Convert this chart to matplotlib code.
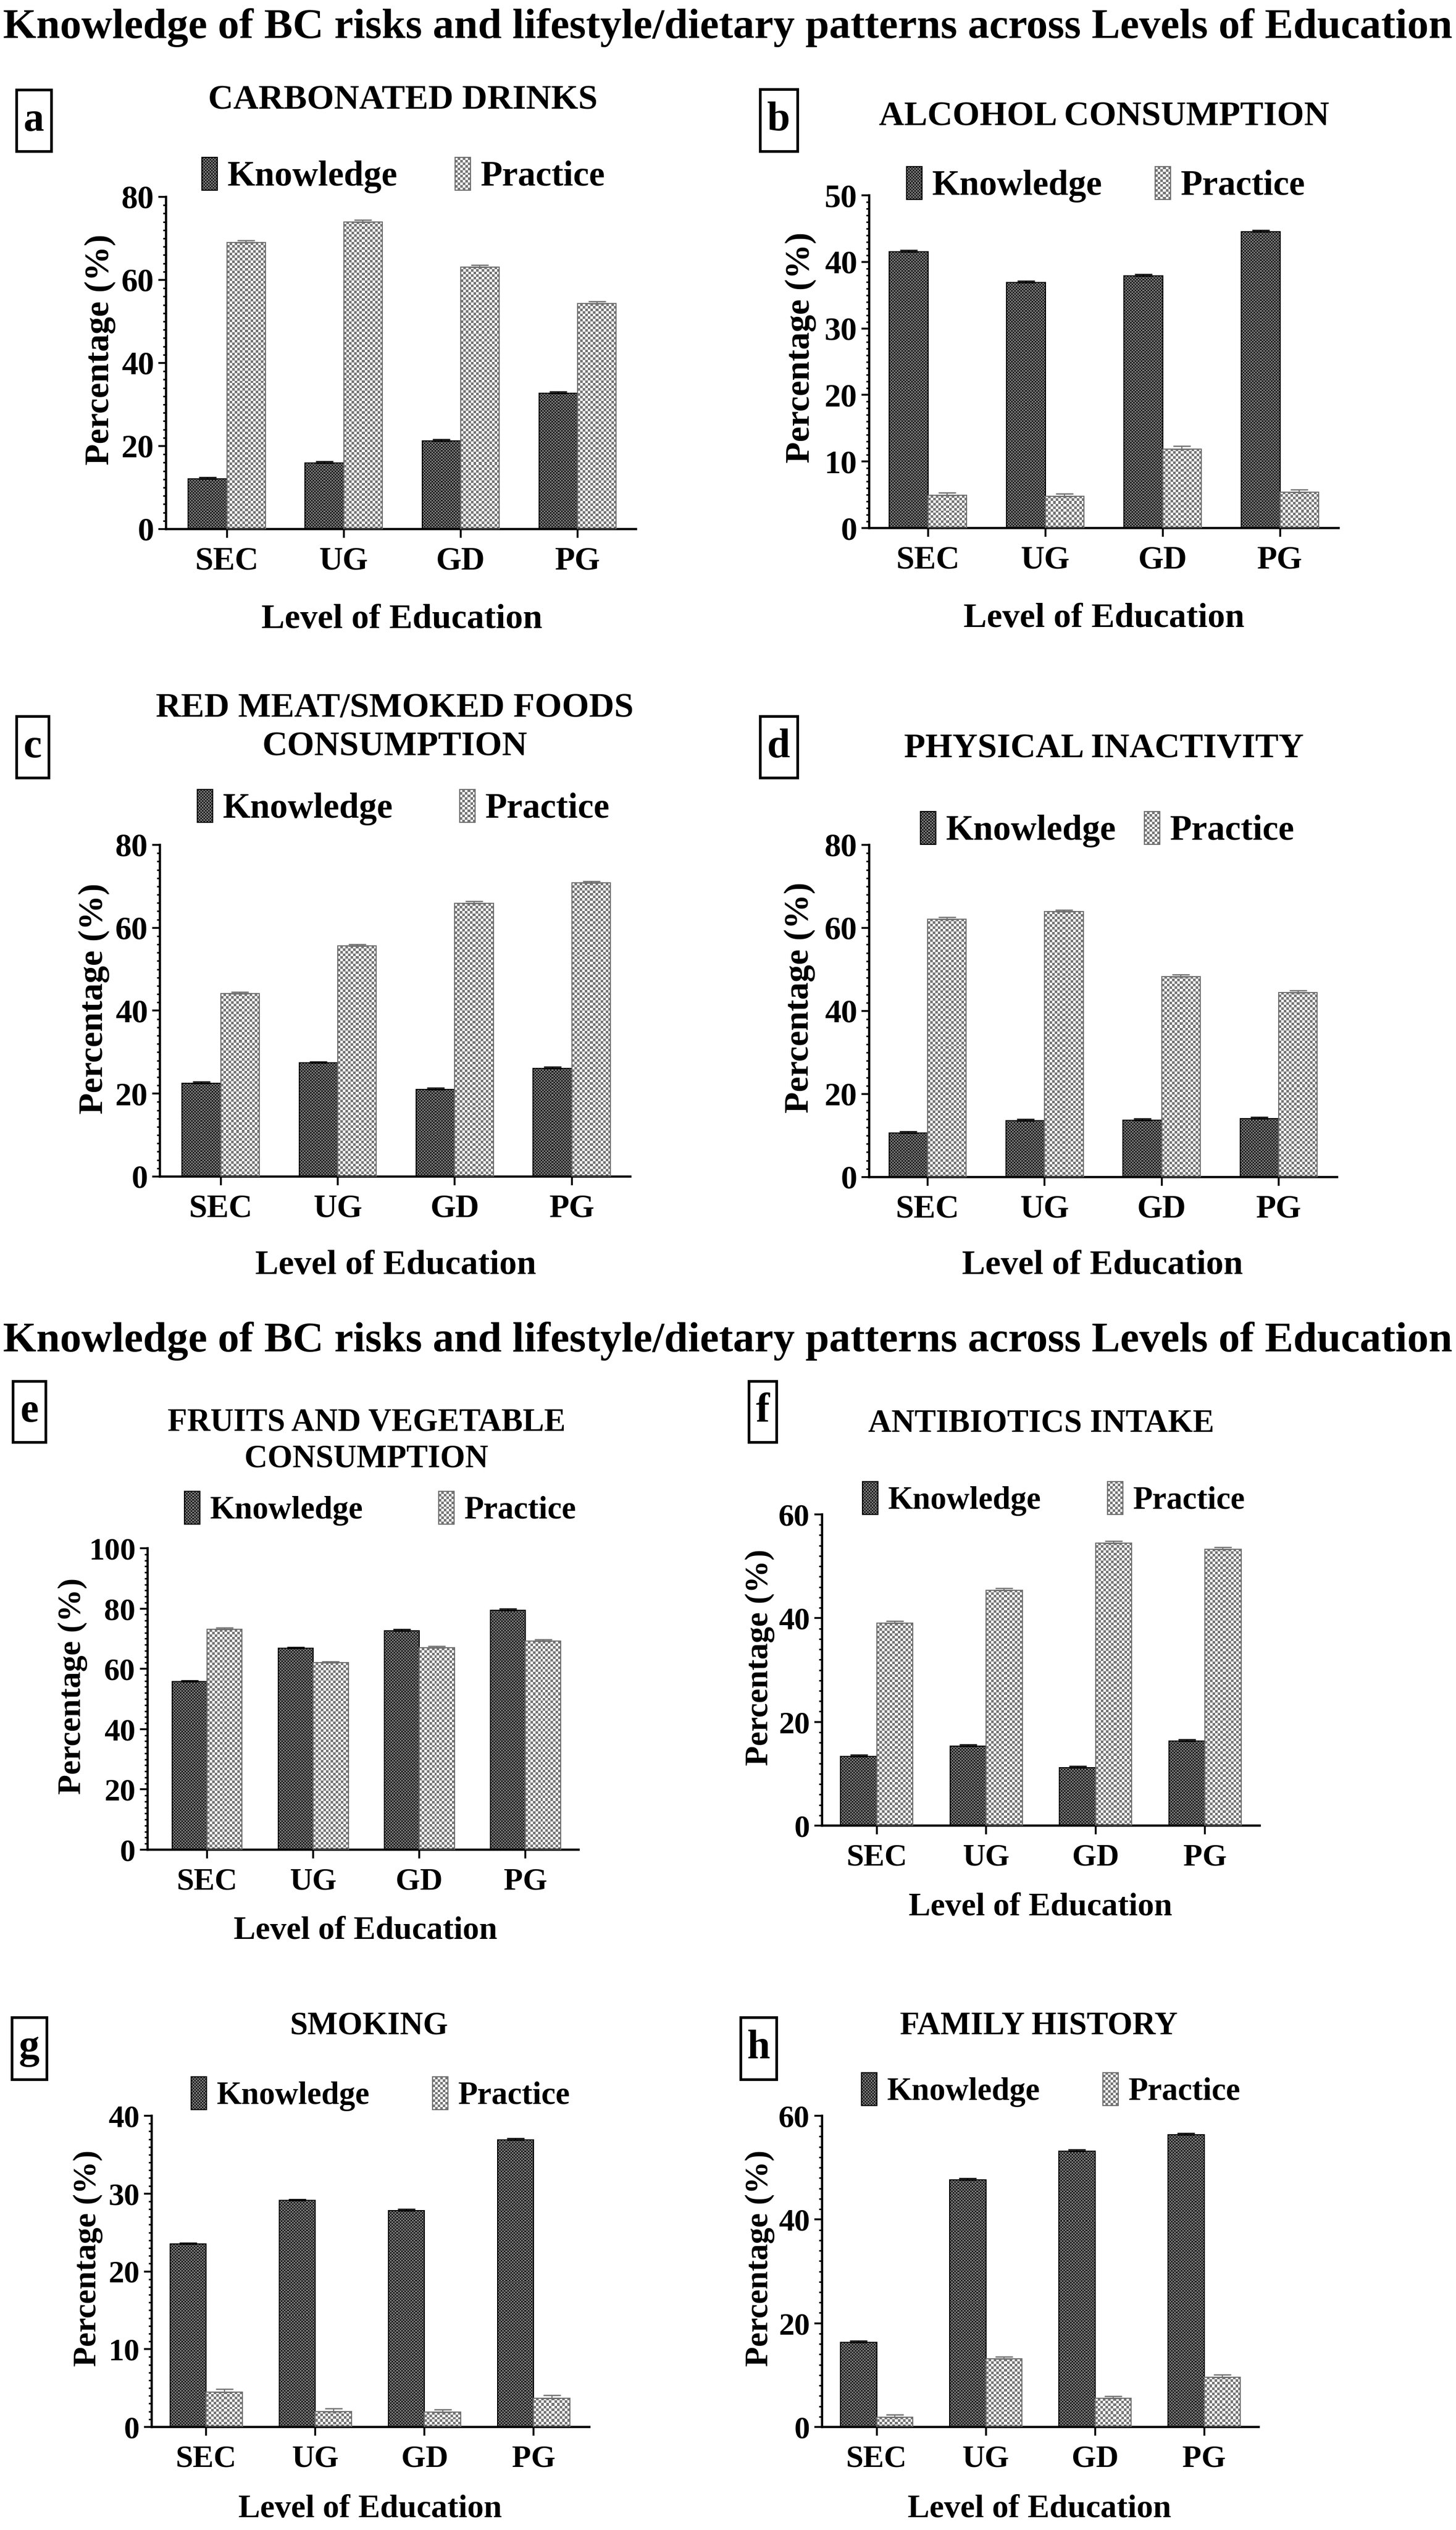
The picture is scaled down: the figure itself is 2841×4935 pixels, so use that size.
import numpy as np
import matplotlib
matplotlib.use('Agg')
import matplotlib.pyplot as plt
from matplotlib.colors import ListedColormap
from matplotlib.patches import Rectangle
from matplotlib.ticker import MultipleLocator

plt.rcParams['font.family'] = ['Liberation Serif', 'DejaVu Serif']
plt.rcParams['font.weight'] = 'bold'

# ---------------- data ----------------
categories = ['SEC', 'UG', 'GD', 'PG']
series_names = ['Knowledge', 'Practice']
main_title = 'Knowledge of BC risks and lifestyle/dietary patterns across Levels of Education'
x_label = 'Level of Education'
y_label = 'Percentage (%)'

carbonated_knowledge = [12.1, 15.9, 21.2, 32.7]
carbonated_practice = [69.0, 74.0, 63.1, 54.3]
carbonated_k_err = [0.35, 0.35, 0.35, 0.35]
carbonated_p_err = [0.5, 0.5, 0.5, 0.5]

alcohol_knowledge = [41.5, 36.9, 37.9, 44.5]
alcohol_practice = [4.9, 4.8, 11.9, 5.4]
alcohol_k_err = [0.25, 0.25, 0.25, 0.25]
alcohol_p_err = [0.4, 0.4, 0.4, 0.4]

redmeat_knowledge = [22.5, 27.4, 21.0, 26.1]
redmeat_practice = [44.1, 55.6, 65.9, 70.8]
redmeat_k_err = [0.35, 0.35, 0.35, 0.35]
redmeat_p_err = [0.45, 0.45, 0.45, 0.45]

inactivity_knowledge = [10.6, 13.6, 13.7, 14.1]
inactivity_practice = [62.1, 63.9, 48.3, 44.5]
inactivity_k_err = [0.35, 0.35, 0.35, 0.35]
inactivity_p_err = [0.45, 0.45, 0.45, 0.45]

fruits_knowledge = [55.8, 66.8, 72.7, 79.5]
fruits_practice = [73.1, 62.0, 67.0, 69.2]
fruits_k_err = [0.4, 0.4, 0.4, 0.4]
fruits_p_err = [0.5, 0.5, 0.5, 0.5]

antibiotics_knowledge = [13.3, 15.3, 11.2, 16.3]
antibiotics_practice = [39.0, 45.4, 54.5, 53.3]
antibiotics_k_err = [0.3, 0.3, 0.3, 0.3]
antibiotics_p_err = [0.4, 0.4, 0.4, 0.4]

smoking_knowledge = [23.5, 29.1, 27.8, 36.9]
smoking_practice = [4.5, 2.0, 1.9, 3.7]
smoking_k_err = [0.18, 0.18, 0.18, 0.18]
smoking_p_err = [0.36, 0.36, 0.36, 0.36]

family_knowledge = [16.3, 47.6, 53.2, 56.3]
family_practice = [1.9, 13.1, 5.5, 9.6]
family_k_err = [0.3, 0.3, 0.3, 0.3]
family_p_err = [0.45, 0.45, 0.45, 0.45]

# ---------------- layout / style ----------------
W, H, DPI = 2841, 4935, 100
fig = plt.figure(figsize=(W / DPI, H / DPI), dpi=DPI)
fig.patch.set_facecolor('white')

K_COLS = ['#1c1c1c', '#7c7c7c']
P_COLS = ['#ffffff', '#747474']
K_EDGE = '#000000'
P_EDGE = '#6e6e6e'


def fx(x):
    return x / W


def fy(y):
    return 1 - y / H


def checker(nr, nc):
    return (np.add.outer(np.arange(nr), np.arange(nc)) % 2).astype(float)


def px_em(fs):
    return fs * DPI / 72.0


panels = [
    dict(letter='a', title='CARBONATED DRINKS', data=(carbonated_knowledge, carbonated_practice, carbonated_k_err, carbonated_p_err),
         ymax=80, ystep=20, axes=(324, 384, 1241, 1032), xlim=(-0.52, 3.5), title_xy=(786, 190),
         box=(32, 175, 100, 295), leg_y=339, leg_k=394, leg_p=888, ylab=(195, 682), xlab=(784, 1209), big=True),
    dict(letter='b', title='ALCOHOL CONSUMPTION', data=(alcohol_knowledge, alcohol_practice, alcohol_k_err, alcohol_p_err),
         ymax=50, ystep=10, axes=(1696, 381, 2612, 1030), xlim=(-0.5, 3.5), title_xy=(2154, 222),
         box=(1483, 174, 1556, 295), leg_y=357, leg_k=1769, leg_p=2254, ylab=(1562, 678), xlab=(2154, 1206), big=True),
    dict(letter='c', title='RED MEAT/SMOKED FOODS\nCONSUMPTION', data=(redmeat_knowledge, redmeat_practice, redmeat_k_err, redmeat_p_err),
         ymax=80, ystep=20, axes=(312, 1648, 1230, 2295), xlim=(-0.52, 3.5), title_xy=(770, 1451),
         box=(32, 1397, 95, 1517), leg_y=1572, leg_k=385, leg_p=897, ylab=(183, 1948), xlab=(772, 2468), big=True),
    dict(letter='d', title='PHYSICAL INACTIVITY', data=(inactivity_knowledge, inactivity_practice, inactivity_k_err, inactivity_p_err),
         ymax=80, ystep=20, axes=(1696, 1648, 2609, 2296), xlim=(-0.5, 3.5), title_xy=(2154, 1455),
         box=(1483, 1397, 1556, 1517), leg_y=1615, leg_k=1796, leg_p=2233, ylab=(1560, 1946), xlab=(2151, 2468), big=True),
    dict(letter='e', title='FRUITS AND VEGETABLE\nCONSUMPTION', data=(fruits_knowledge, fruits_practice, fruits_k_err, fruits_p_err),
         ymax=100, ystep=20, axes=(288, 3020, 1129, 3608), xlim=(-0.56, 3.5), title_xy=(715, 2841),
         box=(25, 2694, 89, 2813), leg_y=2941, leg_k=360, leg_p=856, ylab=(142, 3289), xlab=(713, 3767), big=False),
    dict(letter='f', title='ANTIBIOTICS INTAKE', data=(antibiotics_knowledge, antibiotics_practice, antibiotics_k_err, antibiotics_p_err),
         ymax=60, ystep=20, axes=(1604, 2954, 2458, 3561), xlim=(-0.5, 3.5), title_xy=(2032, 2772),
         box=(1461, 2694, 1515, 2813), leg_y=2922, leg_k=1683, leg_p=2161, ylab=(1483, 3233), xlab=(2030, 3721), big=False),
    dict(letter='g', title='SMOKING', data=(smoking_knowledge, smoking_practice, smoking_k_err, smoking_p_err),
         ymax=40, ystep=10, axes=(296, 4127, 1150, 4734), xlim=(-0.5, 3.51), title_xy=(720, 3947),
         box=(23, 3935, 91, 4056), leg_y=4083, leg_k=373, leg_p=844, ylab=(172, 4405), xlab=(722, 4895), big=False),
    dict(letter='h', title='FAMILY HISTORY', data=(family_knowledge, family_practice, family_k_err, family_p_err),
         ymax=60, ystep=20, axes=(1604, 4127, 2456, 4734), xlim=(-0.5, 3.5), title_xy=(2027, 3947),
         box=(1445, 3935, 1515, 4056), leg_y=4075, leg_k=1681, leg_p=2152, ylab=(1483, 4405), xlab=(2028, 4895), big=False),
]

# main titles
for ty in (47, 2608):
    fs = 60
    fig.text(fx(1420), fy(ty + 0.33 * px_em(fs)), main_title, ha='center', va='baseline',
             fontsize=fs, fontweight='bold')


def to_data(ax, px, py):
    """figure pixel coords (origin top-left) -> data coords of ax"""
    return ax.transData.inverted().transform((px, H - py))


def add_legend_patch(ax, x0, yc, cols, edge, cell):
    w, h = 30, 64
    d0 = to_data(ax, x0, yc + h / 2)
    d1 = to_data(ax, x0 + w, yc - h / 2)
    ax.imshow(checker(int(round(h / cell)), int(round(w / cell))), extent=(d0[0], d1[0], d0[1], d1[1]),
              cmap=ListedColormap(cols), vmin=0, vmax=1, interpolation='nearest', aspect='auto',
              clip_on=False, zorder=5)
    ax.add_patch(Rectangle((d0[0], d0[1]), d1[0] - d0[0], d1[1] - d0[1], facecolor='none',
                           edgecolor=edge, linewidth=1.6, clip_on=False, zorder=6))
    return x0 + w


for cfg in panels:
    kvals, pvals, kerr, perr = cfg['data']
    big = cfg['big']
    fs_title = 49 if big else 45
    fs_leg = 50 if big else 45
    fs_tick = 46 if big else 44
    fs_lab = 49 if big else 46

    l, t, r, b = cfg['axes']
    ax = fig.add_axes([fx(l), fy(b), (r - l) / W, (b - t) / H])
    ax.set_xlim(*cfg['xlim'])
    ax.set_ylim(0, cfg['ymax'])
    ax.set_autoscale_on(False)

    x = np.arange(len(categories))
    bw = 0.33
    kb = ax.bar(x - bw / 2, kvals, bw, facecolor='none', edgecolor=K_EDGE, linewidth=1.5, zorder=3)
    pb = ax.bar(x + bw / 2, pvals, bw, facecolor='none', edgecolor=P_EDGE, linewidth=1.5, zorder=3)
    for bars, cols, cell in ((kb, K_COLS, 3), (pb, P_COLS, 5)):
        for rect in bars:
            x0, y0 = rect.get_x(), rect.get_y()
            x1, y1 = x0 + rect.get_width(), y0 + rect.get_height()
            (px0, py0), (px1, py1) = ax.transData.transform([(x0, y0), (x1, y1)])
            nc = max(1, int(round(abs(px1 - px0) / cell)))
            nr = max(1, int(round(abs(py1 - py0) / cell)))
            ax.imshow(checker(nr, nc), extent=(x0, x1, y0, y1), cmap=ListedColormap(cols),
                      vmin=0, vmax=1, interpolation='nearest', aspect='auto', zorder=2)
    zeros = np.zeros(len(categories))
    ax.errorbar(x - bw / 2, kvals, yerr=[zeros, kerr], fmt='none', ecolor=K_EDGE,
                elinewidth=1.5, capsize=12, capthick=1.8, zorder=4)
    ax.errorbar(x + bw / 2, pvals, yerr=[zeros, perr], fmt='none', ecolor=P_EDGE,
                elinewidth=1.5, capsize=12, capthick=1.8, zorder=4)

    for s in ('top', 'right'):
        ax.spines[s].set_visible(False)
    for s in ('left', 'bottom'):
        ax.spines[s].set_linewidth(3.2)
    ax.set_xticks(x, categories)
    ax.set_yticks(np.arange(0, cfg['ymax'] + 1, cfg['ystep']))
    ax.yaxis.set_minor_locator(MultipleLocator(cfg['ystep'] / 10))
    ax.tick_params(axis='y', which='major', length=11, width=2.6, pad=6, labelsize=fs_tick)
    ax.tick_params(axis='y', which='minor', length=4.5, width=2.2)
    ax.tick_params(axis='x', which='major', length=12, width=2.6, pad=13, labelsize=fs_tick)
    for lab in ax.get_xticklabels() + ax.get_yticklabels():
        lab.set_fontweight('bold')

    ax.set_ylabel(y_label, fontsize=fs_lab, fontweight='bold')
    ax.yaxis.set_label_coords(fx(cfg['ylab'][0]), fy(cfg['ylab'][1]), transform=fig.transFigure)
    ax.yaxis.label.set_va('center')
    ax.set_xlabel(x_label, fontsize=fs_lab, fontweight='bold')
    ax.xaxis.set_label_coords(fx(cfg['xlab'][0]), fy(cfg['xlab'][1]), transform=fig.transFigure)
    ax.xaxis.label.set_va('center')

    # panel title: baseline of last line anchored at measured position
    tx, ty = cfg['title_xy']
    fig.text(fx(tx), fy(ty + 0.33 * px_em(fs_title)), cfg['title'], ha='center', va='baseline',
             fontsize=fs_title, fontweight='bold', linespacing=1.3, multialignment='center')

    # panel letter box
    bx0, by0, bx1, by1 = cfg['box']
    fig.add_artist(Rectangle((fx(bx0), fy(by1)), (bx1 - bx0) / W, (by1 - by0) / H, transform=fig.transFigure,
                             facecolor='white', edgecolor='black', linewidth=3.8))
    fig.text(fx((bx0 + bx1) / 2), fy((by0 + by1) / 2), cfg['letter'], ha='center', va='center',
             fontsize=58, fontweight='bold')

    # legend
    yc = cfg['leg_y']
    base = fy(yc + 0.33 * px_em(fs_leg))
    kx = add_legend_patch(ax, cfg['leg_k'], yc, K_COLS, K_EDGE, 3)
    fig.text(fx(kx + 20), base, series_names[0], ha='left', va='baseline', fontsize=fs_leg, fontweight='bold')
    pxr = add_legend_patch(ax, cfg['leg_p'], yc, P_COLS, P_EDGE, 5)
    fig.text(fx(pxr + 20), base, series_names[1], ha='left', va='baseline', fontsize=fs_leg, fontweight='bold')

    ax.set_xlim(*cfg['xlim'])
    ax.set_ylim(0, cfg['ymax'])

fig.savefig('out.png', dpi=DPI, facecolor='white')
